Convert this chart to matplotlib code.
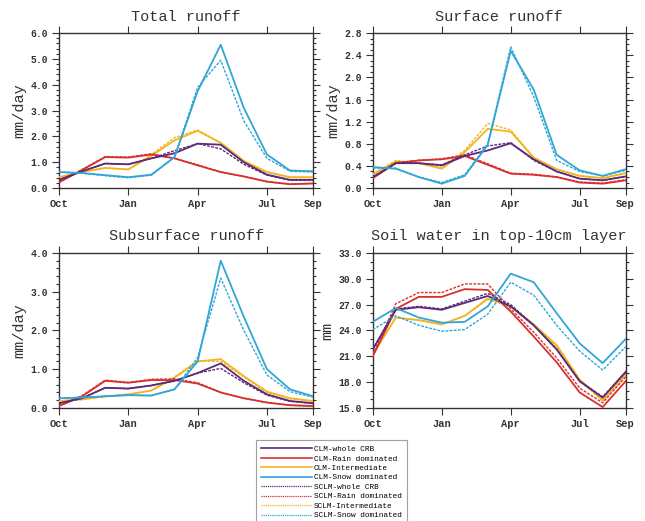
import numpy as np
import matplotlib
matplotlib.use("Agg")
from matplotlib import pyplot as plt
from matplotlib.lines import Line2D
from matplotlib.ticker import MultipleLocator, FormatStrFormatter

plt.rcParams['font.family'] = ['Liberation Mono', 'DejaVu Sans Mono']

months = ['Oct', 'Nov', 'Dec', 'Jan', 'Feb', 'Mar', 'Apr', 'May', 'Jun', 'Jul', 'Aug', 'Sep']
tick_months = ['Oct', 'Jan', 'Apr', 'Jul', 'Sep']
regions = ['whole CRB', 'Rain dominated', 'Intermediate', 'Snow dominated']
colors = ['#5b2a78', '#d9302e', '#f2b51f', '#2fa6d6']

# total runoff (mm/day): CLM / SCLM, order = regions
total_clm = [
    [0.32, 0.65, 0.95, 0.92, 1.15, 1.35, 1.72, 1.68, 1.00, 0.52, 0.32, 0.32],
    [0.22, 0.70, 1.20, 1.18, 1.30, 1.15, 0.88, 0.62, 0.45, 0.25, 0.15, 0.18],
    [0.42, 0.62, 0.78, 0.72, 1.25, 1.85, 2.22, 1.75, 1.05, 0.62, 0.42, 0.42],
    [0.62, 0.58, 0.50, 0.42, 0.52, 1.20, 3.75, 5.55, 3.10, 1.30, 0.68, 0.65],
]
total_sclm = [
    [0.32, 0.65, 0.95, 0.92, 1.15, 1.45, 1.72, 1.52, 0.92, 0.50, 0.30, 0.30],
    [0.25, 0.72, 1.22, 1.20, 1.33, 1.15, 0.90, 0.62, 0.45, 0.25, 0.15, 0.18],
    [0.42, 0.62, 0.78, 0.72, 1.30, 1.95, 2.25, 1.75, 1.05, 0.62, 0.42, 0.42],
    [0.62, 0.58, 0.48, 0.40, 0.50, 1.20, 3.90, 4.95, 2.60, 1.15, 0.65, 0.62],
]
# surface runoff (mm/day)
surf_clm = [
    [0.20, 0.45, 0.45, 0.41, 0.58, 0.68, 0.81, 0.52, 0.30, 0.17, 0.14, 0.21],
    [0.18, 0.45, 0.50, 0.52, 0.58, 0.42, 0.26, 0.24, 0.20, 0.10, 0.08, 0.14],
    [0.25, 0.48, 0.45, 0.35, 0.65, 1.07, 1.02, 0.55, 0.34, 0.22, 0.18, 0.27],
    [0.38, 0.35, 0.20, 0.08, 0.22, 0.78, 2.48, 1.78, 0.60, 0.32, 0.22, 0.34],
]
surf_sclm = [
    [0.20, 0.45, 0.45, 0.42, 0.60, 0.76, 0.82, 0.50, 0.30, 0.17, 0.14, 0.21],
    [0.18, 0.46, 0.50, 0.53, 0.60, 0.44, 0.27, 0.25, 0.20, 0.11, 0.09, 0.15],
    [0.25, 0.50, 0.45, 0.37, 0.68, 1.17, 1.05, 0.55, 0.34, 0.22, 0.18, 0.27],
    [0.36, 0.36, 0.20, 0.10, 0.24, 0.80, 2.55, 1.65, 0.50, 0.30, 0.22, 0.32],
]
# subsurface runoff (mm/day)
sub_clm = [
    [0.12, 0.25, 0.52, 0.50, 0.58, 0.70, 0.90, 1.15, 0.70, 0.35, 0.18, 0.12],
    [0.05, 0.30, 0.70, 0.65, 0.72, 0.72, 0.63, 0.40, 0.25, 0.14, 0.07, 0.05],
    [0.18, 0.22, 0.30, 0.35, 0.45, 0.78, 1.20, 1.26, 0.82, 0.42, 0.25, 0.18],
    [0.25, 0.27, 0.30, 0.33, 0.32, 0.48, 1.20, 3.80, 2.35, 1.00, 0.48, 0.30],
]
sub_sclm = [
    [0.12, 0.25, 0.52, 0.50, 0.58, 0.70, 0.90, 1.02, 0.65, 0.33, 0.17, 0.12],
    [0.05, 0.32, 0.72, 0.66, 0.74, 0.75, 0.65, 0.40, 0.25, 0.14, 0.07, 0.05],
    [0.18, 0.22, 0.30, 0.35, 0.45, 0.80, 1.22, 1.20, 0.80, 0.40, 0.24, 0.17],
    [0.25, 0.27, 0.30, 0.33, 0.32, 0.48, 1.30, 3.35, 2.00, 0.85, 0.42, 0.28],
]
# soil water in top 10cm (mm)
soil_clm = [
    [21.8, 26.4, 26.7, 26.4, 27.2, 28.0, 26.8, 24.6, 21.8, 18.1, 16.2, 19.2],
    [21.0, 26.5, 27.9, 27.9, 28.8, 28.7, 26.2, 23.3, 20.3, 16.8, 15.1, 18.1],
    [21.2, 25.5, 25.2, 24.7, 25.7, 27.7, 26.8, 24.7, 22.3, 18.3, 15.9, 18.9],
    [25.0, 26.6, 25.5, 24.9, 25.0, 26.8, 30.6, 29.6, 26.0, 22.5, 20.2, 23.0],
]
soil_sclm = [
    [21.8, 26.5, 26.8, 26.5, 27.4, 28.3, 27.0, 24.6, 21.8, 18.1, 16.3, 19.1],
    [21.2, 27.1, 28.4, 28.4, 29.4, 29.4, 26.5, 23.8, 20.8, 17.3, 15.6, 18.6],
    [21.2, 25.5, 25.2, 24.7, 25.7, 27.6, 26.8, 24.6, 22.0, 18.2, 15.8, 18.8],
    [24.1, 25.7, 24.6, 23.9, 24.1, 25.9, 29.6, 28.1, 24.6, 21.6, 19.4, 22.1],
]

fig = plt.figure(figsize=(6.45, 5.21), dpi=100)

panels = [
    # title, clm, sclm, ylabel, ymin, ymax, major, minor, position
    ('Total runoff', total_clm, total_sclm, 'mm/day', 0.0, 6.0, 1.0, 0.2,
     [0.0915, 0.639, 0.394, 0.2975]),
    ('Surface runoff', surf_clm, surf_sclm, 'mm/day', 0.0, 2.8, 0.4, 0.1,
     [0.578, 0.639, 0.392, 0.2975]),
    ('Subsurface runoff', sub_clm, sub_sclm, 'mm/day', 0.0, 4.0, 1.0, 0.2,
     [0.0915, 0.217, 0.394, 0.2975]),
    ('Soil water in top-10cm layer', soil_clm, soil_sclm, 'mm', 15.0, 33.0, 3.0, 1.0,
     [0.578, 0.217, 0.392, 0.2975]),
]

x = np.arange(len(months))
tick_pos = [months.index(m) for m in tick_months]

for title, clm, sclm, ylab, y0, y1, major, minor, pos in panels:
    ax = fig.add_axes(pos)
    for k in [2, 1, 0, 3]:
        ax.plot(x, clm[k], color=colors[k], lw=1.3, zorder=3)
        ax.plot(x, sclm[k], color=colors[k], lw=1.0, ls=(0, (2, 1)), zorder=3)
    ax.set_xlim(0, 11)
    ax.set_ylim(y0, y1)
    ax.set_xticks(tick_pos)
    ax.set_xticklabels(tick_months)
    ax.yaxis.set_major_locator(MultipleLocator(major))
    ax.yaxis.set_minor_locator(MultipleLocator(minor))
    ax.yaxis.set_major_formatter(FormatStrFormatter('%.1f'))
    ax.tick_params(axis='both', which='both', direction='out', top=True, right=True,
                   colors='#333333', width=0.8)
    ax.tick_params(axis='both', which='major', length=5)
    ax.tick_params(axis='y', which='minor', length=2.5)
    ax.tick_params(axis='x', labelsize=7.5, pad=3)
    ax.tick_params(axis='y', labelsize=7, pad=3)
    for lab in ax.get_xticklabels() + ax.get_yticklabels():
        lab.set_fontweight('bold')
    for s in ax.spines.values():
        s.set_linewidth(1.0)
        s.set_color('#333333')
    ax.set_ylabel(ylab, fontsize=11, labelpad=3, color='#333333')
    ax.set_title(title, fontsize=11, pad=9, color='#333333')

handles = []
labels = []
for k in range(4):
    handles.append(Line2D([], [], color=colors[k], lw=1.2))
    labels.append('CLM-' + regions[k])
for k in range(4):
    handles.append(Line2D([], [], color=colors[k], lw=0.9, ls=(0, (1, 0.7))))
    labels.append('SCLM-' + regions[k])

leg = fig.legend(handles, labels, loc='center', bbox_to_anchor=(0.514, 0.074),
                 fontsize=5.6, handlelength=6.5, handletextpad=0.3, labelspacing=0.26,
                 borderpad=0.7, borderaxespad=0, fancybox=False, frameon=True,
                 edgecolor='#888888')
leg.get_frame().set_linewidth(0.8)

fig.savefig('out.png', dpi=100)
